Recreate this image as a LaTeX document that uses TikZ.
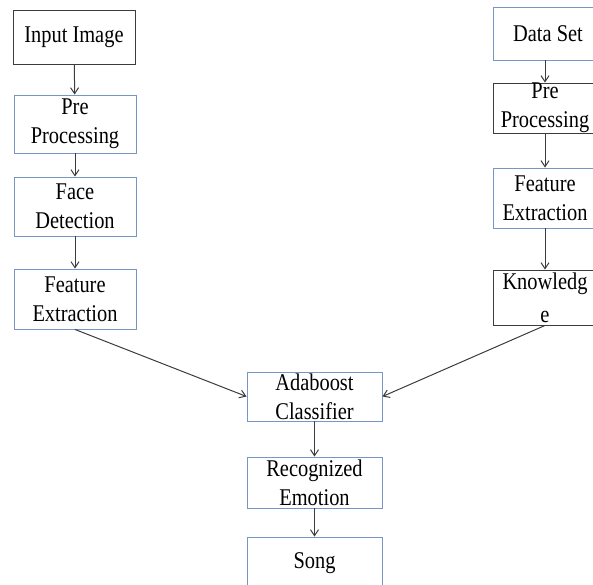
\documentclass[tikz,border=0pt]{standalone}
\usepackage{fontspec}
\setmainfont{Liberation Serif}[FakeStretch=0.85]
\usepackage{tikz}
\usetikzlibrary{positioning,arrows.meta}

\definecolor{boxblue}{RGB}{120,150,196}
\definecolor{linegray}{RGB}{60,60,60}

\begin{document}
\begin{tikzpicture}[x=1pt, y=-1pt, auto,
	>={Straight Barb[length=6pt,width=8pt]},
	mynode/.style={rectangle, draw=linegray, line width=0.9pt, align=center,
		inner sep=0pt, font=\fontsize{24}{29}\selectfont},
	bluenode/.style={mynode, draw=boxblue},
	leftnode/.style={minimum width=122pt},
	rightnode/.style={minimum width=104pt},
	midnode/.style={minimum width=135pt},
	every edge/.style={draw=linegray, line width=1pt}]
	\useasboundingbox (0,0) rectangle (593,584);
	\clip (0,0) rectangle (593,584);
	% left column
	\node[mynode, leftnode, minimum height=54pt] (InImg) at (74,37) {Input Image};
	\node[bluenode, leftnode, minimum height=58pt] (PreL) at (75,124) {Pre\\Processing};
	\node[bluenode, leftnode, minimum height=59pt] (FaceDet) at (75,206.5) {Face\\Detection};
	\node[bluenode, leftnode, minimum height=60pt] (FeatL) at (75,299) {Feature\\Extraction};
	% right column
	\node[bluenode, minimum width=110pt, minimum height=53pt] (DataSet) at (548,33.5) {Data Set};
	\node[mynode, rightnode, minimum height=50pt] (PreR) at (545,108) {Pre\\Processing};
	\node[bluenode, rightnode, minimum height=60pt] (FeatR) at (545,198) {Feature\\Extraction};
	\node[mynode, rightnode, minimum height=55pt, font=\fontsize{24}{33}\selectfont] (Know) at (545,297.5) {Knowledg\\e};
	% middle column
	\node[bluenode, midnode, minimum height=49pt] (Ada) at (314.5,396.5) {Adaboost\\Classifier};
	\node[bluenode, midnode, minimum height=51pt] (RecEmo) at (314.5,482.5) {Recognized\\Emotion};
	\node[bluenode, midnode, minimum height=52pt] (Song) at (314.5,563) {Song};
	\path[->] (InImg) edge (PreL);
	\path[->] (PreL) edge (FaceDet);
	\path[->] (FaceDet) edge (FeatL);
	\path[->] (DataSet.south -| PreR) edge (PreR);
	\path[->] (PreR) edge (FeatR);
	\path[->] (FeatR) edge (Know);
	\path[->] (FeatL.south) edge (Ada.west);
	\path[->] (Know.south) edge (Ada.east);
	\path[->] (Ada) edge (RecEmo);
	\path[->] (RecEmo) edge (Song);
\end{tikzpicture}
\end{document}
